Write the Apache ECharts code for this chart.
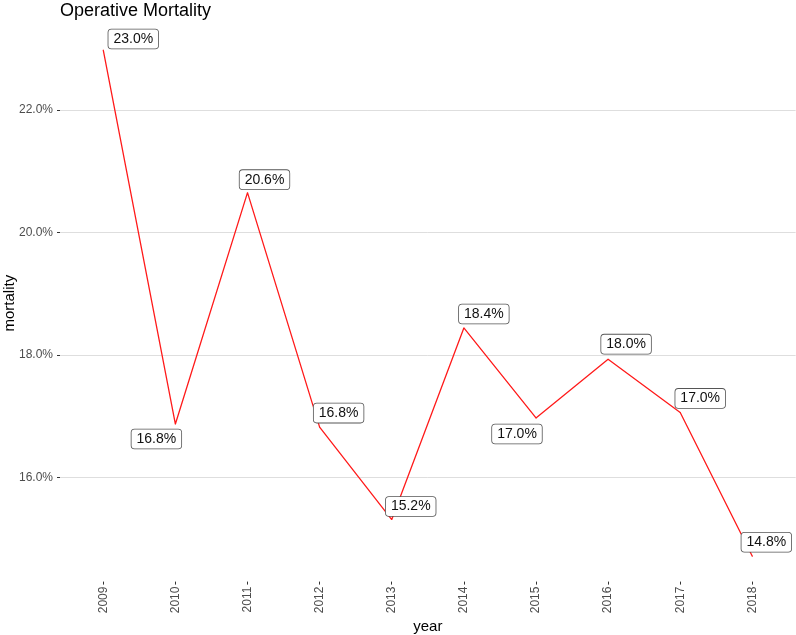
<!DOCTYPE html>
<html>
<head>
<meta charset="utf-8">
<script src="https://cdn.jsdelivr.net/npm/echarts@6/dist/echarts.min.js"></script>
<style>
html,body{margin:0;padding:0;background:#fff;}
#chart{width:796px;height:635px;}
</style>
</head>
<body>
<div id="chart"></div>
<script>
// ---- data ----
const years = [2009, 2010, 2011, 2012, 2013, 2014, 2015, 2016, 2017, 2018];
const mortality = [22.98, 16.87, 20.65, 16.82, 15.31, 18.44, 16.97, 17.93, 17.06, 14.71];
const pointLabels = ['23.0%', '16.8%', '20.6%', '16.8%', '15.2%', '18.4%', '17.0%', '18.0%', '17.0%', '14.8%'];
const yTicks = [16, 18, 20, 22];

// ---- styling (label nudges, px) ----
const labelOffsets = [[30, -11], [-19, 15], [17, -13], [19, -14], [19, -13], [20, -14], [-19, 16], [18, -15], [20, -14], [14, -14]];

const FONT = 'Liberation Sans, Arial, Helvetica, sans-serif';

// ggplot-like expansion of the value range (5%)
const yLo = Math.min(...mortality), yHi = Math.max(...mortality);
const yPad = (yHi - yLo) * 0.05;

const seriesData = years.map((y, i) => [y, mortality[i]]);

const chart = echarts.init(document.getElementById('chart'), null, {renderer: 'canvas'});
chart.setOption({
  animation: false,
  backgroundColor: '#ffffff',
  title: {
    text: 'Operative Mortality',
    left: 60,
    top: 2,
    padding: 0,
    textStyle: {fontFamily: FONT, fontSize: 18, fontWeight: 'normal', color: '#000'}
  },
  grid: {left: 60, right: 0.4, top: 24.7, bottom: 53.4, containLabel: false, outerBoundsMode: 'none'},
  xAxis: {
    type: 'value',
    min: years[0] - 0.6,
    max: years[years.length - 1] + 0.6,
    name: 'year',
    nameLocation: 'middle',
    nameGap: 38,
    nameMoveOverlap: false,
    nameTextStyle: {fontFamily: FONT, fontSize: 15, color: '#000'},
    axisLine: {show: false},
    axisTick: {show: true, customValues: years, length: 3, lineStyle: {color: '#333', width: 1}},
    axisLabel: {
      customValues: years, rotate: 90, margin: 5,
      fontFamily: FONT, fontSize: 12, color: '#4d4d4d',
      formatter: v => String(v)
    },
    splitLine: {show: false}
  },
  yAxis: {
    type: 'value',
    min: yLo - yPad,
    max: yHi + yPad,
    name: 'mortality',
    nameLocation: 'middle',
    nameGap: 43,
    nameRotate: 90,
    nameMoveOverlap: false,
    nameTextStyle: {fontFamily: FONT, fontSize: 15, color: '#000'},
    axisLine: {show: false},
    axisTick: {show: true, customValues: yTicks, length: 3, lineStyle: {color: '#333', width: 1}},
    axisLabel: {
      customValues: yTicks, margin: 7,
      fontFamily: FONT, fontSize: 12, color: '#4d4d4d',
      formatter: v => v.toFixed(1) + '%'
    },
    splitLine: {show: true, lineStyle: {color: '#dedede', width: 1}}
  },
  series: [{
    type: 'line',
    data: seriesData,
    symbol: 'circle',
    symbolSize: 1,
    showSymbol: true,
    itemStyle: {color: '#ff1a1a'},
    lineStyle: {color: '#ff1a1a', width: 1.3},
    label: {
      show: true,
      position: 'inside',
      align: 'center',
      verticalAlign: 'middle',
      formatter: p => pointLabels[p.dataIndex],
      fontFamily: FONT,
      fontSize: 14,
      lineHeight: 15,
      color: '#111',
      backgroundColor: '#ffffff',
      borderColor: '#555',
      borderWidth: 0.8,
      borderRadius: 3,
      padding: [2, 5, 2, 5]
    },
    labelLayout: p => ({dx: labelOffsets[p.dataIndex][0], dy: labelOffsets[p.dataIndex][1], hideOverlap: false}),
    emphasis: {disabled: true}
  }]
});
</script>
</body>
</html>
